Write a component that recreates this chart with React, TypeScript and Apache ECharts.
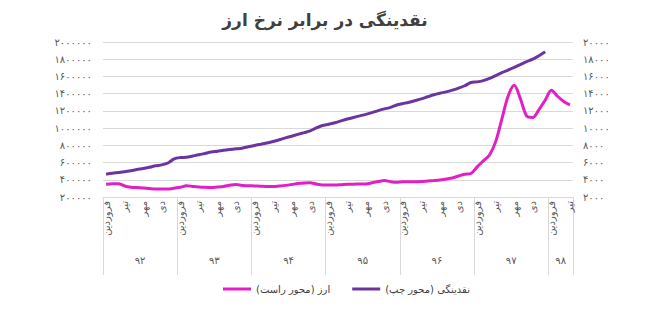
import React, { useEffect, useRef } from "react";
import * as echarts from "echarts";

const title = "نقدینگی در برابر نرخ ارز";
const monthNames = ["فروردین", "اردیبهشت", "خرداد", "تیر", "مرداد", "شهریور", "مهر", "آبان", "آذر", "دی", "بهمن", "اسفند"];
const yearLabels = ["92", "93", "94", "95", "96", "97", "98"];
const monthsPerYear = [12, 12, 12, 12, 12, 12, 4];
const liquidityName = "نقدینگی (محور چپ)";
const currencyName = "ارز (محور راست)";

// liquidity (left axis), Farvardin 92 .. Esfand 97
const liquidity = [
  465000, 476000, 484000, 493000, 505000, 519000, 530000, 545000, 562000, 573000, 595000, 643000,
  658000, 662000, 676000, 690000, 706000, 722000, 731000, 742000, 751000, 759000, 767000, 784000,
  799000, 813000, 828000, 845000, 865000, 886000, 906000, 927000, 947000, 967000, 1003000, 1030000,
  1044000, 1062000, 1084000, 1105000, 1124000, 1142000, 1160000, 1180000, 1203000, 1223000, 1240000, 1269000,
  1285000, 1301000, 1320000, 1340000, 1364000, 1387000, 1405000, 1421000, 1441000, 1464000, 1492000, 1530000,
  1537000, 1552000, 1577000, 1610000, 1645000, 1674000, 1705000, 1738000, 1771000, 1801000, 1840000, 1886000,
];

// currency rate (right axis), Farvardin 92 .. Tir 98
const currency = [
  3480, 3550, 3550, 3280, 3140, 3090, 3050, 2980, 2930, 2930, 2930, 3020,
  3130, 3310, 3230, 3160, 3120, 3100, 3160, 3230, 3360, 3450, 3340, 3310,
  3290, 3260, 3220, 3220, 3280, 3350, 3450, 3560, 3630, 3660, 3500, 3400,
  3400, 3400, 3430, 3470, 3490, 3500, 3510, 3650, 3800, 3920, 3780, 3710,
  3770, 3770, 3780, 3790, 3850, 3910, 3980, 4090, 4210, 4440, 4640, 4730,
  5500, 6190, 6880, 8430, 11070, 13700, 14970, 13400, 11420, 11240, 12150, 13240,
  14400, 13700, 13100, 12700,
];

const leftTicks = { min: 200000, max: 2000000, interval: 200000 };
const rightTicks = { min: 2000, max: 20000, interval: 2000 };

const fa = (v: number | string) => String(v).replace(/\d/g, (d) => "۰۱۲۳۴۵۶۷۸۹"[+d]);

export default function App() {
  const ref = useRef<HTMLDivElement>(null);
  useEffect(() => {
    if (!ref.current) return;
    const chart = echarts.init(ref.current, null, { renderer: "svg" });

    const categories: string[] = [];
    monthsPerYear.forEach((n) => {
      for (let m = 0; m < n; m++) categories.push(monthNames[m]);
    });
    const total = categories.length;
    const boundaries: number[] = [0];
    const centers: number[] = [];
    let acc = 0;
    monthsPerYear.forEach((n) => {
      centers.push(acc + n / 2);
      acc += n;
      boundaries.push(acc);
    });

    const font = "DejaVu Sans";
    const gray = "#595959";
    const lineGray = "#d9d9d9";

    chart.setOption({
      animation: false,
      backgroundColor: "#ffffff",
      textStyle: { fontFamily: font },
      title: {
        text: title,
        left: "center",
        top: 6,
        textStyle: { fontFamily: font, fontSize: 17, fontWeight: "bold", color: "#404040" },
      },
      legend: {
        data: [currencyName, liquidityName],
        left: 218,
        top: 279,
        icon: "rect",
        itemWidth: 28,
        itemHeight: 3,
        itemGap: 22,
        textStyle: { fontFamily: font, fontSize: 10, color: "#404040" },
      },
      grid: { left: 103, right: 77, top: 42, bottom: 125, containLabel: false },
      xAxis: [
        {
          type: "category",
          data: categories,
          boundaryGap: true,
          axisLine: { show: true, lineStyle: { color: lineGray, width: 1 } },
          axisTick: { show: false },
          axisLabel: {
            interval: (i: number) => i % 3 === 0,
            rotate: 90,
            fontSize: 10,
            color: gray,
            fontFamily: font,
            margin: 4,
          },
          splitLine: { show: false },
        },
        {
          type: "value",
          position: "bottom",
          min: 0,
          max: total,
          axisLine: { show: false },
          axisTick: {
            show: true,
            customValues: boundaries,
            length: 78,
            lineStyle: { color: lineGray, width: 1 },
          },
          axisLabel: {
            show: true,
            customValues: centers,
            formatter: (v: number) => {
              const idx = centers.indexOf(v);
              return idx >= 0 ? fa(yearLabels[idx]) : "";
            },
            margin: 58,
            fontSize: 10,
            color: gray,
            fontFamily: font,
          },
          splitLine: { show: false },
        },
      ],
      yAxis: [
        {
          type: "value",
          position: "left",
          ...leftTicks,
          axisLine: { show: false },
          axisTick: { show: false },
          axisLabel: { formatter: (v: number) => fa(v), fontSize: 10, color: gray, fontFamily: font, margin: 11 },
          splitLine: { show: true, lineStyle: { color: lineGray, width: 1 } },
        },
        {
          type: "value",
          position: "right",
          ...rightTicks,
          axisLine: { show: false },
          axisTick: { show: false },
          axisLabel: { formatter: (v: number) => fa(v), fontSize: 10, color: gray, fontFamily: font, margin: 10 },
          splitLine: { show: false },
        },
      ],
      series: [
        {
          name: liquidityName,
          type: "line",
          xAxisIndex: 0,
          yAxisIndex: 0,
          data: liquidity,
          smooth: 0.3,
          showSymbol: false,
          lineStyle: { color: "#6b35a0", width: 3 },
          itemStyle: { color: "#6b35a0" },
        },
        {
          name: currencyName,
          type: "line",
          xAxisIndex: 0,
          yAxisIndex: 1,
          data: currency,
          smooth: 0.3,
          showSymbol: false,
          lineStyle: { color: "#e21ec7", width: 3 },
          itemStyle: { color: "#e21ec7" },
        },
      ],
    });
    return () => chart.dispose();
  }, []);
  return <div ref={ref} style={{ position: "fixed", left: 0, top: 0, width: 650, height: 322 }} />;
}
